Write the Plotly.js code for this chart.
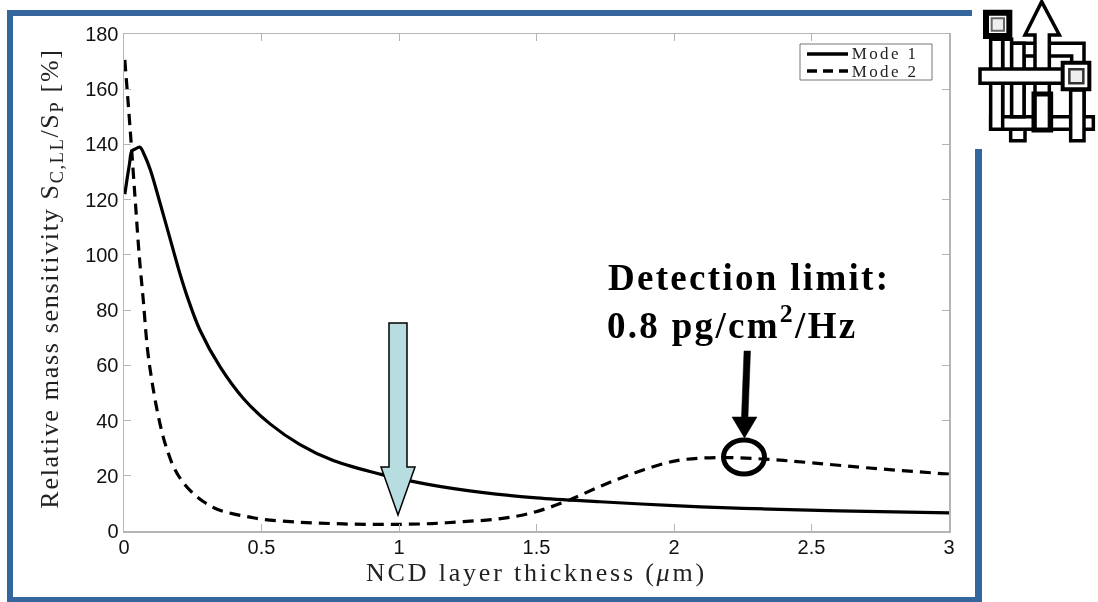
<!DOCTYPE html>
<html>
<head>
<meta charset="utf-8">
<script src="https://cdn.plot.ly/plotly-3.0.0.min.js"></script>
<style>
html,body{margin:0;padding:0;background:#fff;overflow:hidden}
#chart{width:1098px;height:602px;filter:blur(0.5px)}
.xtitle{letter-spacing:2.8px}
.ytitle{letter-spacing:1.7px}
.g-xtitle{transform:translateY(6px)}
.g-ytitle{transform:translate(3px,-4px)}
.annotation-text{letter-spacing:2.3px}
.annotation[data-index="2"] .annotation-text,.annotation[data-index="3"] .annotation-text{letter-spacing:2.4px}
</style>
</head>
<body>
<div id="chart"></div>
<script>
const mode1Name = "Mode 1";
const mode1X = [0.003,0.012,0.02,0.028,0.04,0.058,0.075,0.095,0.131,0.17,0.204,0.234,0.276,0.349,0.434,0.531,0.64,0.761,0.931,1.1,1.3,1.5,1.731,2,2.25,2.6,3];
const mode1Y = [122,128,133,137.5,138.3,139,136,131,118.8,105,93,83.7,72.8,59.5,48,38.8,31.3,25.5,20.6,17,14,12,10.6,9.2,8.2,7.3,6.6];
const mode2Name = "Mode 2";
const mode2X = [0.003,0.022,0.04,0.056,0.07,0.085,0.1,0.119,0.143,0.16,0.179,0.206,0.243,0.288,0.339,0.397,0.458,0.513,0.634,0.755,0.876,1,1.12,1.233,1.355,1.476,1.604,1.742,1.864,1.973,2.03,2.1,2.2,2.35,2.5,2.7,3];
const mode2Y = [170.6,146,121,99,83.7,66.2,55.3,44.4,33.9,28.5,23.5,18.8,14.4,10.7,7.9,6.2,5,4.1,3.2,2.7,2.4,2.4,2.7,3.4,4.3,6.4,10.6,16.6,21.3,24.7,25.8,26.4,26.6,25.9,24.7,22.9,20.6];
const xTicks = [0,0.5,1,1.5,2,2.5,3];
const xTickLabels = ["0","0.5","1","1.5","2","2.5","3"];
const yTicks = [0,20,40,60,80,100,120,140,160,180];
const xAxisTitle = "NCD layer thickness (<i>μ</i>m)";
const yAxisTitle = "Relative mass sensitivity S<sub>C,LL</sub>/S<sub>P</sub> [%]";
const calloutLine1 = "Detection limit:";
const calloutLine2 = "0.8 pg/cm<sup>2</sup>/Hz";

const L=124,R=949,T=34,B=531;
const fx=x=>(x-L)/(R-L), fy=y=>(B-y)/(B-T);
function poly(pts,fill,line,w){
  const d=pts.map((p,i)=>(i?'L':'M')+fx(p[0]).toFixed(5)+','+fy(p[1]).toFixed(5)).join(' ')+' Z';
  return {type:'path',xref:'paper',yref:'paper',path:d,fillcolor:fill,line:{color:line,width:w}};
}
function box(x0,y0,x1,y1,fill,line,w){
  return {type:'rect',xref:'paper',yref:'paper',x0:fx(x0),x1:fx(x1),y0:fy(y1),y1:fy(y0),fillcolor:fill,line:{color:line,width:w}};
}
function seg(x0,y0,x1,y1,w,dash,color){
  return {type:'line',xref:'paper',yref:'paper',x0:fx(x0),x1:fx(x1),y0:fy(y0),y1:fy(y1),line:{color:color||'#000',width:w,dash:dash||'solid'}};
}
const blue='#34659d';
const frame=[box(7,10,972,16,blue,blue,0),box(7,10,13,602,blue,blue,0),box(7,597,982,602,blue,blue,0),box(975,149,982,602,blue,blue,0)];
const z=(a,b)=>[960+a/3,b/3];
function ib(a,b,c,d,fill,w,color){const p=z(a,b),q=z(c,d);return box(p[0],p[1],q[0],q[1],fill||'#fff',color||'#000',w===undefined?3.5:w);}
const icon=[
  ib(155,130,372,350),
  ib(192,168,335,350),
  ib(152,388,195,422),
  ib(128,118,155,350),
  ib(92,350,400,388),
  ib(92,118,128,388),
  ib(155,130,192,350),
  poly([z(245,5),z(298,105),z(268,105),z(268,390),z(225,390),z(225,105),z(195,105)],'#fff','#000',3.5),
  ib(60,207,310,250),
  ib(222,282,272,390,'rgba(255,255,255,0.2)',5),
  ib(332,270,372,422),
  ib(78,38,148,108,'#fff',6),
  ib(95,55,132,92,'#eee',2,'#666'),
  ib(308,188,388,268,'#fff',4),
  ib(328,208,370,250,'#eee',2.5,'#333')
];
const cyanArrow=poly([[389,323],[407,323],[407,467],[415,467],[398,515],[381,467],[389,467]],'#b7dde1','#000',1.5);
const blackArrow=[
  poly([[744,351],[750.5,351],[748,417],[757,417],[744.5,438],[732,417],[741.5,417]],'#000','#000',0.5),
  {type:'circle',xref:'paper',yref:'paper',x0:fx(723.5),x1:fx(764.5),y0:fy(474),y1:fy(440),fillcolor:'rgba(0,0,0,0)',line:{color:'#000',width:5}}
];
const legendShapes=[
  box(800,44,932,80,'#fff','#777',1),
  seg(807,54,848,54,3.5),
  seg(807,71,848,71,3.5,'10px,6px')
];
const serif='"Liberation Serif",serif';
const traces=[
  {x:mode1X,y:mode1Y,name:mode1Name,mode:'lines',showlegend:false,line:{color:'#000',width:3.2,shape:'spline',smoothing:1}},
  {x:mode2X,y:mode2Y,name:mode2Name,mode:'lines',showlegend:false,line:{color:'#000',width:3.2,dash:'11px,7px',shape:'spline',smoothing:1}}
];
const axisCommon={showgrid:false,zeroline:false,showline:true,linecolor:'#b5b5b5',linewidth:1.5,mirror:'ticks',ticks:'inside',ticklen:7,tickcolor:'#b5b5b5',tickwidth:1,
  tickfont:{family:'"Liberation Sans",Arial,sans-serif',size:20,color:'#111'}};
const annotationFont=s=>({family:serif,size:s,color:'#000',weight:700});
const layout={
  width:1098,height:602,paper_bgcolor:'#fff',plot_bgcolor:'#fff',
  margin:{l:L,r:1098-R,t:T,b:602-B,pad:0},
  showlegend:false,
  xaxis:Object.assign({},axisCommon,{range:[0,3],tickmode:'array',tickvals:xTicks,ticktext:xTickLabels,ticklabelstandoff:-3,
    title:{text:xAxisTitle,standoff:0,font:{family:serif,size:26,color:'#222'}}}),
  yaxis:Object.assign({},axisCommon,{range:[0,180],tickmode:'array',tickvals:yTicks,
    title:{text:yAxisTitle,standoff:22,font:{family:serif,size:26,color:'#222'}}}),
  annotations:[
    {xref:'paper',yref:'paper',x:fx(606),y:fy(277),xanchor:'left',yanchor:'middle',showarrow:false,text:calloutLine1,font:annotationFont(37)},
    {xref:'paper',yref:'paper',x:fx(605),y:fy(322),xanchor:'left',yanchor:'middle',showarrow:false,text:calloutLine2,font:annotationFont(37)},
    {xref:'paper',yref:'paper',x:fx(850),y:fy(53),xanchor:'left',yanchor:'middle',showarrow:false,text:mode1Name,font:{family:serif,size:17,color:'#222'}},
    {xref:'paper',yref:'paper',x:fx(850),y:fy(71.5),xanchor:'left',yanchor:'middle',showarrow:false,text:mode2Name,font:{family:serif,size:17,color:'#222'}}
  ],
  shapes:[].concat(frame,icon,legendShapes,[cyanArrow],blackArrow)
};
Plotly.newPlot('chart',traces,layout,{displayModeBar:false,staticPlot:true});
</script>
</body>
</html>
